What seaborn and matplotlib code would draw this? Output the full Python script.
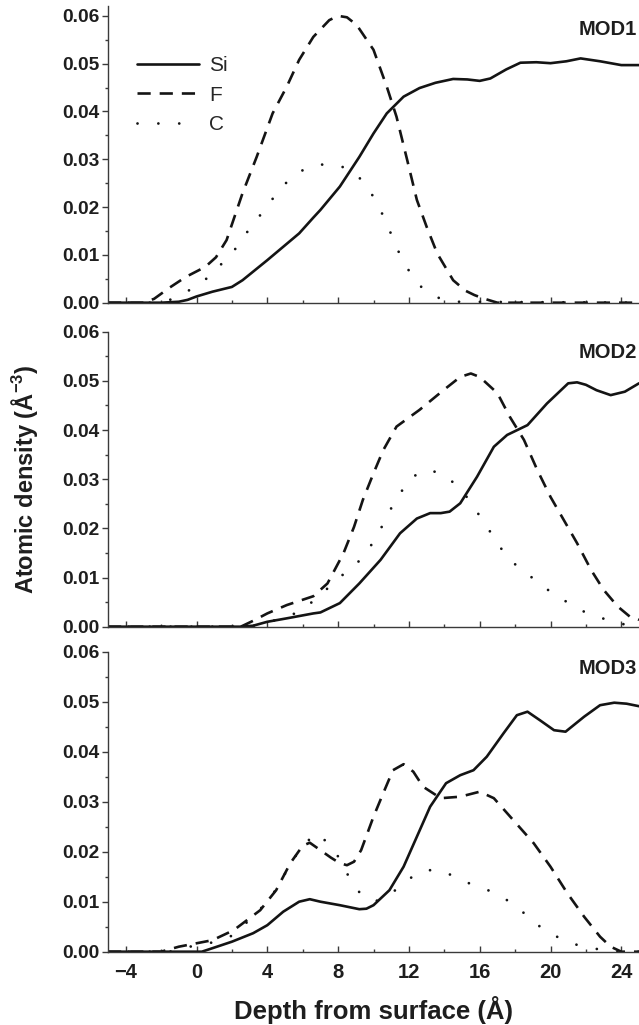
import matplotlib
matplotlib.use("Agg")
import matplotlib.pyplot as plt
import matplotlib.ticker as mticker
import seaborn as sns

# ---- density profiles: depth (Å) and atomic density (Å^-3) ----
# MOD1
mod1_si_x = [-5, -2, -1, -0.5, 0, 0.9, 2.0, 2.6, 3.3, 4.0, 4.9, 5.8, 6.6, 7.0, 8.1, 9.2, 10.0, 10.75,
             11.7, 12.6, 13.5, 14.5, 15.3, 16.0, 16.6, 17.5, 18.3, 19.2, 20.0, 20.9, 21.7, 22.8, 24.0, 25.0]
mod1_si_y = [0, 0, 0.0002, 0.0006, 0.0013, 0.0023, 0.0033, 0.0047, 0.0068, 0.0089, 0.0117, 0.0145, 0.0178,
             0.0194, 0.0243, 0.0305, 0.0354, 0.0396, 0.0431, 0.0449, 0.0460, 0.0468, 0.0467, 0.0464, 0.0469,
             0.0488, 0.0502, 0.0503, 0.0501, 0.0505, 0.0511, 0.0505, 0.0497, 0.0497]
mod1_f_x = [-5, -3, -2.4, -1.5, -0.6, 0.5, 1.1, 1.7, 2.6, 3.4, 4.3, 5.1, 5.8, 6.6, 7.5, 8.0, 8.5, 9.05,
            10.0, 10.75, 11.3, 11.9, 12.45, 13.0, 13.6, 14.5, 15.2, 15.7, 16.2, 17.0, 25]
mod1_f_y = [0, 0, 0.0008, 0.0032, 0.0054, 0.0075, 0.0095, 0.0131, 0.0229, 0.0305, 0.0396, 0.0452, 0.0508,
            0.0556, 0.0591, 0.0600, 0.0597, 0.0581, 0.0529, 0.0452, 0.0389, 0.0299, 0.0215, 0.0159, 0.0103,
            0.0047, 0.0025, 0.0016, 0.0009, 0.0, 0.0]
mod1_c_x = [-5, -2.5, -1.5, -0.7, 0.3, 1.1, 2.0, 2.6, 3.3, 4.0, 4.65, 5.5, 6.4, 7.3, 8.2, 9.1, 9.8, 10.3,
            10.75, 11.1, 11.5, 12.0, 12.7, 13.6, 14.5, 25]
mod1_c_y = [0, 0, 0.0006, 0.002, 0.0041, 0.007, 0.0102, 0.0135, 0.0169, 0.0202, 0.0235, 0.0267, 0.0285,
            0.029, 0.0285, 0.0266, 0.0234, 0.020, 0.0167, 0.0133, 0.010, 0.0067, 0.0033, 0.0011, 0.0002, 0]

# MOD2
mod2_si_x = [-5, 2.5, 3.2, 4.0, 5.1, 6.6, 7.0, 8.1, 9.2, 10.4, 11.5, 12.45, 13.2, 13.8, 14.3, 14.9, 15.85,
             16.8, 17.55, 18.7, 19.8, 21.0, 21.5, 22.0, 22.6, 23.4, 24.2, 25]
mod2_si_y = [0, 0, 0.0002, 0.001, 0.0017, 0.0027, 0.0029, 0.0048, 0.0088, 0.0136, 0.019, 0.022, 0.0231,
             0.0231, 0.0234, 0.0251, 0.0305, 0.0366, 0.039, 0.041, 0.0454, 0.0495, 0.0497, 0.0492, 0.0481,
             0.0471, 0.0478, 0.0495]
mod2_f_x = [-5, 2.5, 3.2, 4.0, 5.1, 6.6, 7.4, 8.3, 8.9, 9.4, 10.0, 10.55, 11.3, 12.6, 13.95, 14.9, 15.5,
            16.0, 17.0, 17.7, 18.5, 19.25, 20.0, 20.75, 21.5, 22.3, 23.0, 23.8, 24.5, 25]
mod2_f_y = [0, 0, 0.0012, 0.0027, 0.0044, 0.0062, 0.0088, 0.0149, 0.0203, 0.0258, 0.0312, 0.0359, 0.0407,
            0.0441, 0.0481, 0.0508, 0.0515, 0.0508, 0.0475, 0.0427, 0.038, 0.0319, 0.0264, 0.0217, 0.017,
            0.0115, 0.0075, 0.0041, 0.002, 0.0014]
mod2_c_x = [-5, 3.0, 4.0, 5.65, 6.6, 7.5, 8.4, 9.3, 9.95, 10.45, 10.9, 11.45, 12.0, 12.9, 13.8, 14.7, 15.5,
            16.05, 16.65, 17.25, 18.05, 18.95, 19.85, 20.8, 21.65, 22.55, 23.5, 24.4, 25]
mod2_c_y = [0, 0, 0.0008, 0.0028, 0.0052, 0.0081, 0.011, 0.0137, 0.017, 0.0202, 0.0235, 0.0267, 0.030,
            0.0319, 0.0313, 0.0288, 0.0254, 0.0222, 0.019, 0.0157, 0.0125, 0.010, 0.0075, 0.0053, 0.0034,
            0.0022, 0.001, 0.0003, 0.0]

# MOD3
mod3_si_x = [-5, 0.3, 0.9, 2.0, 3.2, 4.0, 4.9, 5.8, 6.4, 7.0, 8.1, 9.2, 9.6, 10.0, 10.9, 11.7, 12.45, 13.2,
             14.1, 14.9, 15.65, 16.4, 17.35, 18.1, 18.7, 19.4, 20.2, 20.85, 21.9, 22.8, 23.6, 24.3, 25]
mod3_si_y = [0, 0, 0.0007, 0.002, 0.0037, 0.0053, 0.008, 0.010, 0.0105, 0.010, 0.0093, 0.0085, 0.0086,
             0.0093, 0.0123, 0.017, 0.023, 0.029, 0.0337, 0.0353, 0.0363, 0.039, 0.0437, 0.0473, 0.048,
             0.0463, 0.0443, 0.044, 0.047, 0.0493, 0.0498, 0.0496, 0.0491]
mod3_f_x = [-5, -2, -1.0, 0.9, 2.1, 3.6, 4.5, 5.3, 6.0, 6.4, 7.0, 7.6, 8.1, 8.5, 8.9, 9.3, 10.0, 10.55,
            11.1, 11.7, 12.25, 12.8, 13.8, 14.9, 16.0, 16.8, 17.9, 19.05, 20.0, 20.95, 21.9, 22.8, 23.4,
            24, 25]
mod3_f_y = [0, 0, 0.001, 0.0023, 0.0043, 0.0083, 0.0123, 0.0177, 0.0212, 0.0218, 0.0203, 0.0188, 0.0177,
            0.0173, 0.018, 0.0203, 0.027, 0.0317, 0.0363, 0.0375, 0.036, 0.033, 0.0307, 0.031, 0.032,
            0.0307, 0.0263, 0.0217, 0.017, 0.0117, 0.007, 0.003, 0.001, 0, 0]
mod3_c_x = [-5, -1.5, -0.7, 0.4, 2.1, 3.6, 4.4, 4.9, 5.45, 6.0, 6.8, 7.5, 8.15, 8.6, 9.2, 10.05, 10.9,
            11.85, 12.75, 13.65, 14.55, 15.45, 16.35, 17.3, 18.2, 19.05, 19.95, 20.9, 21.8, 22.7, 23.5, 25]
mod3_c_y = [0, 0, 0.0009, 0.0013, 0.0033, 0.0085, 0.012, 0.015, 0.0183, 0.0213, 0.0237, 0.0215, 0.0183,
            0.015, 0.0119, 0.010, 0.0113, 0.0142, 0.0162, 0.0164, 0.0151, 0.0136, 0.0125, 0.0109, 0.0087,
            0.0059, 0.0037, 0.0021, 0.001, 0.0005, 0, 0]

panel_names = ["MOD1", "MOD2", "MOD3"]
species = ["Si", "F", "C"]
x_ticks = [-4, 0, 4, 8, 12, 16, 20, 24]
y_ticks = [0.00, 0.01, 0.02, 0.03, 0.04, 0.05, 0.06]

profiles = [
    {"Si": (mod1_si_x, mod1_si_y), "F": (mod1_f_x, mod1_f_y), "C": (mod1_c_x, mod1_c_y)},
    {"Si": (mod2_si_x, mod2_si_y), "F": (mod2_f_x, mod2_f_y), "C": (mod2_c_x, mod2_c_y)},
    {"Si": (mod3_si_x, mod3_si_y), "F": (mod3_f_x, mod3_f_y), "C": (mod3_c_x, mod3_c_y)},
]

# ---- styling ----
sns.set_theme(style="ticks")
plt.rcParams.update({
    "font.family": ["Liberation Sans", "DejaVu Sans"],
    "font.weight": "bold",
    "mathtext.fontset": "custom",
    "mathtext.rm": "Liberation Sans",
    "mathtext.bf": "Liberation Sans:bold",
    "axes.edgecolor": "#3a3a3a",
    "axes.linewidth": 1.0,
    "xtick.color": "#3a3a3a",
    "ytick.color": "#3a3a3a",
    "xtick.labelcolor": "#1e1e1e",
    "ytick.labelcolor": "#1e1e1e",
})

line_color = "#141414"
styles = {
    "Si": dict(linestyle="-", lw=1.9),
    "F": dict(linestyle=(0, (5.0, 3.4)), lw=1.9),
    "C": dict(linestyle=(0, (0.01, 7.5)), lw=2.0, dash_capstyle="round"),
}

W, H = 639, 1025
fig = plt.figure(figsize=(W / 100, H / 100), dpi=100)

# axes boxes in pixels: (top, bottom, ymax)
boxes = [(6.3, 302.7, 0.062), (331.7, 626.7, 0.060), (651.7, 951.7, 0.060)]
left_px, right_px = 108, 639
label_y = [0.0572, 0.0557, 0.0567]

axes = []
for i, (top, bot, ymax) in enumerate(boxes):
    ax = fig.add_axes([left_px / W, (H - bot) / H, (right_px - left_px) / W, (bot - top) / H])
    axes.append(ax)
    for sp in species:
        xs, ys = profiles[i][sp]
        sns.lineplot(x=xs, y=ys, ax=ax, color=line_color, label=sp, estimator=None,
                     sort=False, **styles[sp])
    ax.set_xlim(-5, 25)
    ax.set_ylim(0, ymax)
    sns.despine(ax=ax, top=True, right=True)

    ax.set_xticks(x_ticks)
    ax.xaxis.set_minor_locator(mticker.MultipleLocator(2))
    ax.set_yticks(y_ticks)
    ax.yaxis.set_minor_locator(mticker.MultipleLocator(0.005))
    ax.yaxis.set_major_formatter(mticker.FormatStrFormatter("%.2f"))

    ax.tick_params(axis="x", which="major", direction="in", length=4.5, width=1.0,
                   labelsize=14.5, pad=8)
    ax.tick_params(axis="x", which="minor", direction="in", length=2.5, width=1.0)
    ax.tick_params(axis="y", which="major", direction="out", length=4.5, width=1.0,
                   labelsize=13.8, pad=1.5)
    ax.tick_params(axis="y", which="minor", direction="out", length=2.5, width=1.0)
    if i < 2:
        ax.tick_params(axis="x", labelbottom=False)
    ax.set_xlabel("")
    ax.set_ylabel("")

    ax.text(0.996, label_y[i], panel_names[i], transform=ax.get_yaxis_transform(),
            ha="right", va="center", fontsize=14.5, fontweight="bold", color="#1e1e1e")

    leg = ax.get_legend()
    if i == 0:
        ax.legend(loc="center left", bbox_to_anchor=(0.0546, 0.70), frameon=False,
                  prop={"family": "Liberation Sans", "weight": "normal", "size": 15},
                  handlelength=3.0, handletextpad=0.45, labelspacing=0.5,
                  borderpad=0, borderaxespad=0)
    elif leg is not None:
        leg.remove()

axes[2].set_xlabel("Depth from surface (Å)", fontsize=18.5, fontweight="bold",
                   labelpad=10, color="#1e1e1e")
fig.text(25 / W, 1 - 479 / H, r"Atomic density (Å$^{\mathbf{-3}}$)", rotation=90,
         ha="center", va="center", fontsize=17, fontweight="bold", color="#1e1e1e")

fig.savefig("out.png", dpi=100)
